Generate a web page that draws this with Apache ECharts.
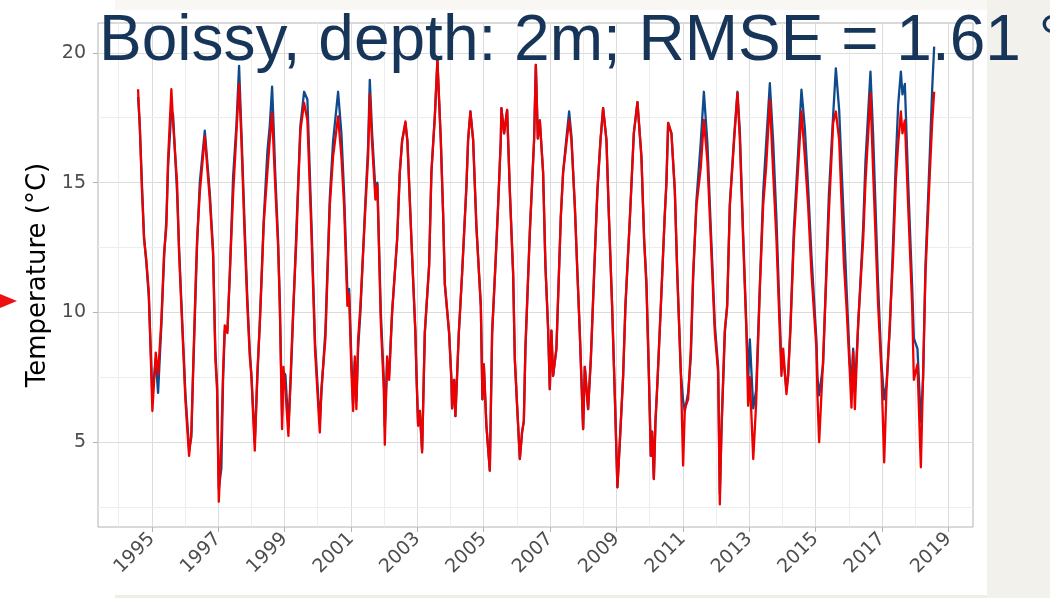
<!DOCTYPE html>
<html>
<head>
<meta charset="utf-8">
<script src="https://cdn.jsdelivr.net/npm/echarts@6/dist/echarts.min.js"></script>
<style>
  html, body { margin: 0; padding: 0; background: #ffffff; }
  #chart { width: 1050px; height: 598px; }
</style>
</head>
<body>
<div id="chart"></div>
<script>
// Time in decimal years, shared by both series
const years = [
  1994.587,1994.638,1994.708,1994.768,1994.837,1994.910,1994.970,1995.018,1995.120,1995.190,
  1995.289,1995.371,1995.440,1995.491,1995.590,1995.642,1995.762,1995.822,1995.892,1995.964,
  1996.012,1996.124,1996.193,1996.244,1996.326,1996.365,1996.446,1996.597,1996.748,1996.847,
  1996.916,1996.967,1997.019,1997.097,1997.148,1997.199,1997.278,1997.350,1997.449,1997.549,
  1997.630,1997.700,1997.802,1997.880,1997.952,1998.001,1998.103,1998.181,1998.253,1998.301,
  1998.374,1998.483,1998.555,1998.625,1998.676,1998.715,1998.805,1998.857,1998.926,1998.965,
  1999.025,1999.116,1999.188,1999.257,1999.357,1999.408,1999.477,1999.589,1999.688,1999.809,
  1999.920,2000.062,2000.110,2000.231,2000.363,2000.462,2000.613,2000.713,2000.794,2000.893,
  2000.945,2001.014,2001.065,2001.116,2001.164,2001.216,2001.285,2001.418,2001.517,2001.568,
  2001.638,2001.737,2001.797,2001.900,2001.990,2002.020,2002.089,2002.150,2002.240,2002.391,
  2002.472,2002.541,2002.641,2002.701,2002.822,2002.942,2002.972,2003.023,2003.075,2003.144,
  2003.225,2003.355,2003.424,2003.527,2003.605,2003.707,2003.777,2003.828,2003.958,2004.027,
  2004.048,2004.108,2004.147,2004.250,2004.349,2004.479,2004.530,2004.599,2004.681,2004.780,
  2004.913,2004.961,2005.003,2005.081,2005.184,2005.253,2005.352,2005.433,2005.515,2005.533,
  2005.614,2005.705,2005.735,2005.786,2005.886,2005.937,2006.006,2006.088,2006.157,2006.208,
  2006.256,2006.389,2006.518,2006.570,2006.630,2006.690,2006.789,2006.859,2006.940,2006.991,
  2007.039,2007.090,2007.190,2007.323,2007.392,2007.482,2007.573,2007.642,2007.745,2007.823,
  2007.895,2007.995,2008.046,2008.145,2008.227,2008.326,2008.425,2008.516,2008.597,2008.697,
  2008.769,2008.868,2008.950,2009.028,2009.100,2009.200,2009.269,2009.402,2009.522,2009.631,
  2009.751,2009.833,2009.902,2009.974,2010.034,2010.074,2010.125,2010.173,2010.233,2010.336,
  2010.456,2010.504,2010.556,2010.655,2010.757,2010.831,2010.938,2011.007,2011.059,2011.158,
  2011.240,2011.309,2011.408,2011.541,2011.632,2011.740,2011.842,2011.963,2012.062,2012.113,
  2012.162,2012.264,2012.334,2012.415,2012.545,2012.644,2012.716,2012.816,2012.915,2012.966,
  2013.017,2013.120,2013.207,2013.318,2013.418,2013.508,2013.620,2013.719,2013.819,2013.891,
  2013.969,2014.021,2014.120,2014.171,2014.241,2014.343,2014.473,2014.572,2014.674,2014.774,
  2014.873,2015.024,2015.054,2015.105,2015.225,2015.325,2015.397,2015.527,2015.608,2015.708,
  2015.850,2015.928,2016.030,2016.079,2016.130,2016.181,2016.281,2016.432,2016.500,2016.651,
  2016.732,2016.883,2016.983,2017.064,2017.133,2017.235,2017.335,2017.416,2017.486,2017.567,
  2017.615,2017.687,2017.787,2017.907,2017.958,2018.067,2018.169,2018.238,2018.308,2018.441,
  2018.510,2018.570
];

// Measured temperature (°C)
const observed = [
  18.3,17.2,14.8,12.9,11.9,10.6,8.5,6.8,8.2,6.9,
  9.5,12.1,13.6,15.6,17.8,17.6,14.6,12.5,10.4,8.3,
  6.9,4.7,5.2,7.6,11.0,12.6,15.0,17.0,14.6,12.4,
  8.5,7.2,3.2,4.0,7.4,9.3,9.3,11.4,15.2,17.2,
  19.5,17.0,13.2,10.5,8.5,7.6,5.0,7.5,9.6,11.2,
  13.6,16.2,17.2,18.7,17.0,15.5,12.8,10.4,6.0,7.7,
  7.6,5.6,7.5,9.8,13.2,14.9,17.2,18.5,18.2,13.5,
  8.8,5.7,6.9,9.3,14.4,16.6,18.5,16.9,14.6,10.8,
  10.9,8.2,6.5,8.1,6.6,8.6,10.0,13.8,16.4,18.96,
  16.9,14.7,15.0,10.0,7.4,5.6,8.0,7.6,10.0,12.8,
  15.4,16.6,17.3,16.6,12.8,9.2,7.7,5.7,6.2,4.7,
  9.2,11.8,15.4,17.55,19.7,16.65,13.8,11.1,9.2,7.4,
  6.3,7.4,6.0,9.2,11.5,14.86,16.65,17.74,16.65,13.3,
  10.25,6.65,8.0,5.63,3.9,9.2,11.8,14.1,16.65,17.87,
  16.9,17.8,16.65,14.7,11.5,8.2,6.4,4.35,5.4,5.8,
  8.6,13.1,16.65,19.54,16.7,17.4,15.4,11.8,9.35,7.04,
  9.3,7.55,8.6,13.7,15.4,16.6,17.74,16.8,14.1,11.5,
  9.2,5.5,7.9,6.27,8.2,11.5,14.7,16.6,17.87,16.65,
  13.8,10.25,6.78,3.26,5.0,7.55,10.25,13.6,16.9,18.1,
  16.0,12.8,11.2,7.68,4.47,5.4,3.58,5.76,7.3,10.25,
  13.8,15.0,17.3,16.9,14.7,11.5,7.68,6.6,6.2,6.9,
  8.3,11.3,14.3,16.6,18.5,16.5,13.2,9.5,7.9,3.0,
  5.4,9.2,10.3,14.2,16.8,18.5,17.0,13.0,9.4,7.4,
  8.96,6.3,7.0,11.0,14.6,16.5,18.83,16.6,13.6,10.8,
  8.0,8.3,7.0,7.6,9.5,13.2,16.2,18.58,17.1,14.8,
  12.2,8.9,7.5,6.8,8.0,11.8,14.5,17.6,19.4,17.8,
  13.45,11.0,8.0,7.2,8.6,7.0,9.5,13.3,15.8,19.28,
  16.8,11.0,8.0,6.65,7.2,9.4,12.8,15.9,18.0,19.28,
  18.4,18.8,15.0,11.0,9.0,8.6,5.76,7.5,11.8,16.2,
  18.6,20.24
];

// Simulated temperature (°C)
const simulated = [
  18.6,17.2,14.6,12.8,12.0,10.8,8.3,6.2,8.45,7.6,
  9.7,12.3,13.3,15.9,18.6,17.3,15.0,12.3,10.2,8.1,
  6.65,4.47,5.4,7.7,11.3,12.8,14.6,16.8,14.35,12.2,
  8.2,7.04,2.7,5.1,7.7,9.5,9.2,11.5,14.5,16.9,
  18.8,16.65,12.8,10.25,8.3,7.55,4.67,7.7,9.5,11.0,
  13.45,15.4,16.65,17.7,16.15,15.0,12.55,10.25,5.5,7.9,
  7.0,5.24,7.7,10.0,12.8,14.7,17.0,18.07,17.4,13.1,
  8.5,5.37,7.04,9.0,14.1,16.0,17.55,16.0,14.1,10.25,
  10.7,7.7,6.2,8.3,6.27,8.96,10.25,13.6,16.0,18.4,
  16.5,14.35,14.9,9.6,7.04,4.9,8.3,7.4,10.0,12.8,
  15.4,16.6,17.36,16.6,12.8,9.2,7.7,5.63,6.2,4.6,
  9.2,11.8,15.4,17.55,19.73,16.65,13.8,11.1,9.2,7.4,
  6.3,7.4,6.0,9.2,11.5,14.86,16.65,17.74,16.65,13.3,
  10.25,6.65,8.0,5.63,3.9,9.2,11.8,14.1,16.65,17.87,
  16.9,17.8,16.65,14.7,11.5,8.2,6.4,4.35,5.4,5.8,
  8.6,13.1,16.65,19.54,16.7,17.4,15.4,11.8,9.35,7.04,
  9.3,7.55,8.6,13.7,15.4,16.4,17.42,16.65,14.1,11.5,
  9.2,5.5,7.9,6.27,8.2,11.5,14.7,16.6,17.87,16.65,
  13.8,10.25,6.78,3.26,5.0,7.55,10.25,13.6,16.9,18.1,
  16.0,12.8,11.0,7.68,4.47,5.4,3.58,5.76,7.3,10.25,
  13.8,15.0,17.3,16.9,14.7,11.5,7.68,4.1,6.3,6.65,
  8.6,11.5,14.1,15.6,17.42,15.8,12.8,9.2,7.7,2.6,
  5.5,9.35,10.2,14.1,16.65,18.45,16.65,12.8,9.2,6.4,
  7.5,4.35,6.5,10.9,14.1,15.6,18.2,15.4,12.8,10.25,
  7.55,8.6,6.85,7.55,9.35,12.8,15.6,17.74,16.0,14.1,
  11.5,8.6,6.78,5.0,8.2,11.5,13.8,17.3,17.74,16.65,
  11.9,10.25,7.68,6.33,8.5,6.27,9.6,12.8,15.0,18.45,
  15.4,10.25,7.68,4.22,7.0,9.6,12.2,15.1,16.5,17.74,
  16.9,17.4,14.1,10.25,7.4,8.0,4.03,7.68,11.5,15.4,
  17.3,18.5
];

// Axis ticks
const xTickYears = [1995, 1997, 1999, 2001, 2003, 2005, 2007, 2009, 2011, 2013, 2015, 2017, 2019];
const xMinorYears = [1994, 1996, 1998, 2000, 2002, 2004, 2006, 2008, 2010, 2012, 2014, 2016, 2018];
const yTicks = [5, 10, 15, 20];
const yMinor = [2.5, 7.5, 12.5, 17.5];

const titleText = 'Boissy, depth: 2m; RMSE = 1.61 °C';

const chart = echarts.init(document.getElementById('chart'), null, { renderer: 'canvas' });

const toPairs = (vals) => years.map((t, i) => [t, vals[i]]);

const majorGrid = { color: '#dcdcdc', width: 1, type: 'solid' };
const minorGrid = { color: '#ededed', width: 1, type: 'solid' };

const gridLines = []
  .concat(xTickYears.map(v => ({ xAxis: v, lineStyle: majorGrid })))
  .concat(xMinorYears.map(v => ({ xAxis: v, lineStyle: minorGrid })))
  .concat(yTicks.map(v => ({ yAxis: v, lineStyle: majorGrid })))
  .concat(yMinor.map(v => ({ yAxis: v, lineStyle: minorGrid })));

const axisFont = 'DejaVu Sans';

chart.setOption({
  animation: false,
  backgroundColor: '#ffffff',
  title: {
    text: titleText,
    left: 99,
    top: 10,
    padding: 0,
    z: 20,
    textStyle: {
      fontFamily: 'Liberation Sans',
      fontSize: 64,
      fontWeight: 'normal',
      color: '#173459'
    }
  },
  graphic: [
    { type: 'rect', z: -10, shape: { x: 115, y: 0, width: 935, height: 10 }, style: { fill: '#f8f7f3' } },
    { type: 'rect', z: -10, shape: { x: 987, y: 0, width: 63, height: 598 }, style: { fill: '#f3f1ec' } },
    { type: 'rect', z: -10, shape: { x: 115, y: 595, width: 872, height: 3 }, style: { fill: '#efede6' } },
    { type: 'polygon', z: 10, shape: { points: [[0, 294], [17, 301], [0, 308]] }, style: { fill: '#ee1111' } }
  ],
  grid: {
    left: 98, right: 77, top: 23, bottom: 71,
    show: true,
    backgroundColor: '#ffffff',
    borderColor: '#b3b3b3',
    borderWidth: 1
  },
  xAxis: {
    type: 'value',
    min: 1993.38,
    max: 2019.74,
    axisLine: { show: false },
    splitLine: { show: false },
    axisTick: { show: true, length: 5, lineStyle: { color: '#b3b3b3' }, customValues: xTickYears },
    axisLabel: {
      customValues: xTickYears,
      rotate: 45,
      margin: 9,
      color: '#4d4d4d',
      fontFamily: axisFont,
      fontSize: 19,
      formatter: v => String(Math.round(v))
    }
  },
  yAxis: {
    type: 'value',
    min: 1.73,
    max: 21.15,
    name: 'Temperature (°C)',
    nameLocation: 'middle',
    nameRotate: 90,
    nameGap: 45,
    nameTextStyle: { fontFamily: axisFont, fontSize: 26, color: '#000000' },
    axisLine: { show: false },
    splitLine: { show: false },
    axisTick: { show: true, length: 5, lineStyle: { color: '#b3b3b3' }, customValues: yTicks },
    axisLabel: {
      customValues: yTicks,
      margin: 12,
      color: '#4d4d4d',
      fontFamily: axisFont,
      fontSize: 19,
      formatter: v => String(Math.round(v))
    }
  },
  series: [
    {
      name: 'grid',
      type: 'line',
      data: [],
      silent: true,
      z: 1,
      markLine: {
        silent: true,
        z: 1,
        symbol: ['none', 'none'],
        label: { show: false },
        emphasis: { disabled: true },
        animation: false,
        lineStyle: { type: 'solid' },
        data: gridLines
      }
    },
    {
      name: 'observed',
      type: 'line',
      data: toPairs(observed),
      showSymbol: false,
      z: 3,
      lineStyle: { color: '#0f4a8c', width: 2.3, join: 'round' }
    },
    {
      name: 'simulated',
      type: 'line',
      data: toPairs(simulated),
      showSymbol: false,
      z: 4,
      lineStyle: { color: '#ee0000', width: 2.3, join: 'round' }
    }
  ]
});
</script>
</body>
</html>
